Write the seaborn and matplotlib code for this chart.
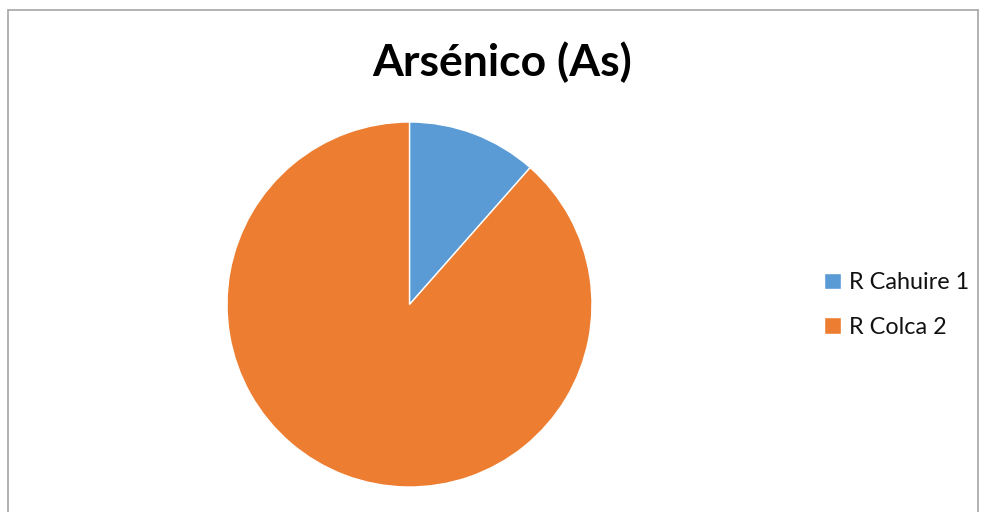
import matplotlib
matplotlib.use("Agg")
import matplotlib.pyplot as plt
from matplotlib.lines import Line2D
import seaborn as sns

sns.set_theme(style="white")
plt.rcParams["font.family"] = ["Lato", "DejaVu Sans"]

# Arsenic share by sampling point
categories = ["R Cahuire 1", "R Colca 2"]
values = [11.5, 88.5]
colors = ["#5B9BD5", "#ED7D31"]
title = "Arsénico (As)"

W, H = 981, 512
fig = plt.figure(figsize=(W / 100, H / 100), dpi=100)

# Pie axes: centre and radius in pixels
cx, cy, r = 409.5, 304.5, 182.5
ax = fig.add_axes([(cx - r) / W, (H - cy - r) / H, 2 * r / W, 2 * r / H])
wedges, _ = ax.pie(
    values,
    colors=colors,
    startangle=90,
    counterclock=False,
    radius=1,
    wedgeprops=dict(edgecolor="white", linewidth=1),
)
ax.set_xlim(-1, 1)
ax.set_ylim(-1, 1)
ax.set_aspect("equal")
ax.axis("off")

fig.text(502 / W, 1 - 62 / H, title, ha="center", va="center",
         fontsize=32, fontweight="bold", color="#000000")

fig.legend(
    wedges, categories,
    loc="center left",
    bbox_to_anchor=(824 / W, 1 - 305 / H),
    frameon=False,
    borderpad=0,
    borderaxespad=0,
    fontsize=16.8,
    labelcolor="#111111",
    handlelength=0.72,
    handleheight=0.72,
    handletextpad=0.35,
    labelspacing=1.0,
)

# Chart frame (gray border)
border = dict(color="#A6A6A6", linewidth=1.2)
fig.add_artist(Line2D([8 / W, 978 / W], [1 - 10 / H, 1 - 10 / H], **border))
fig.add_artist(Line2D([8 / W, 8 / W], [0, 1 - 10 / H], **border))
fig.add_artist(Line2D([978 / W, 978 / W], [0, 1 - 10 / H], **border))

fig.savefig("out.png", dpi=100, facecolor="white")
